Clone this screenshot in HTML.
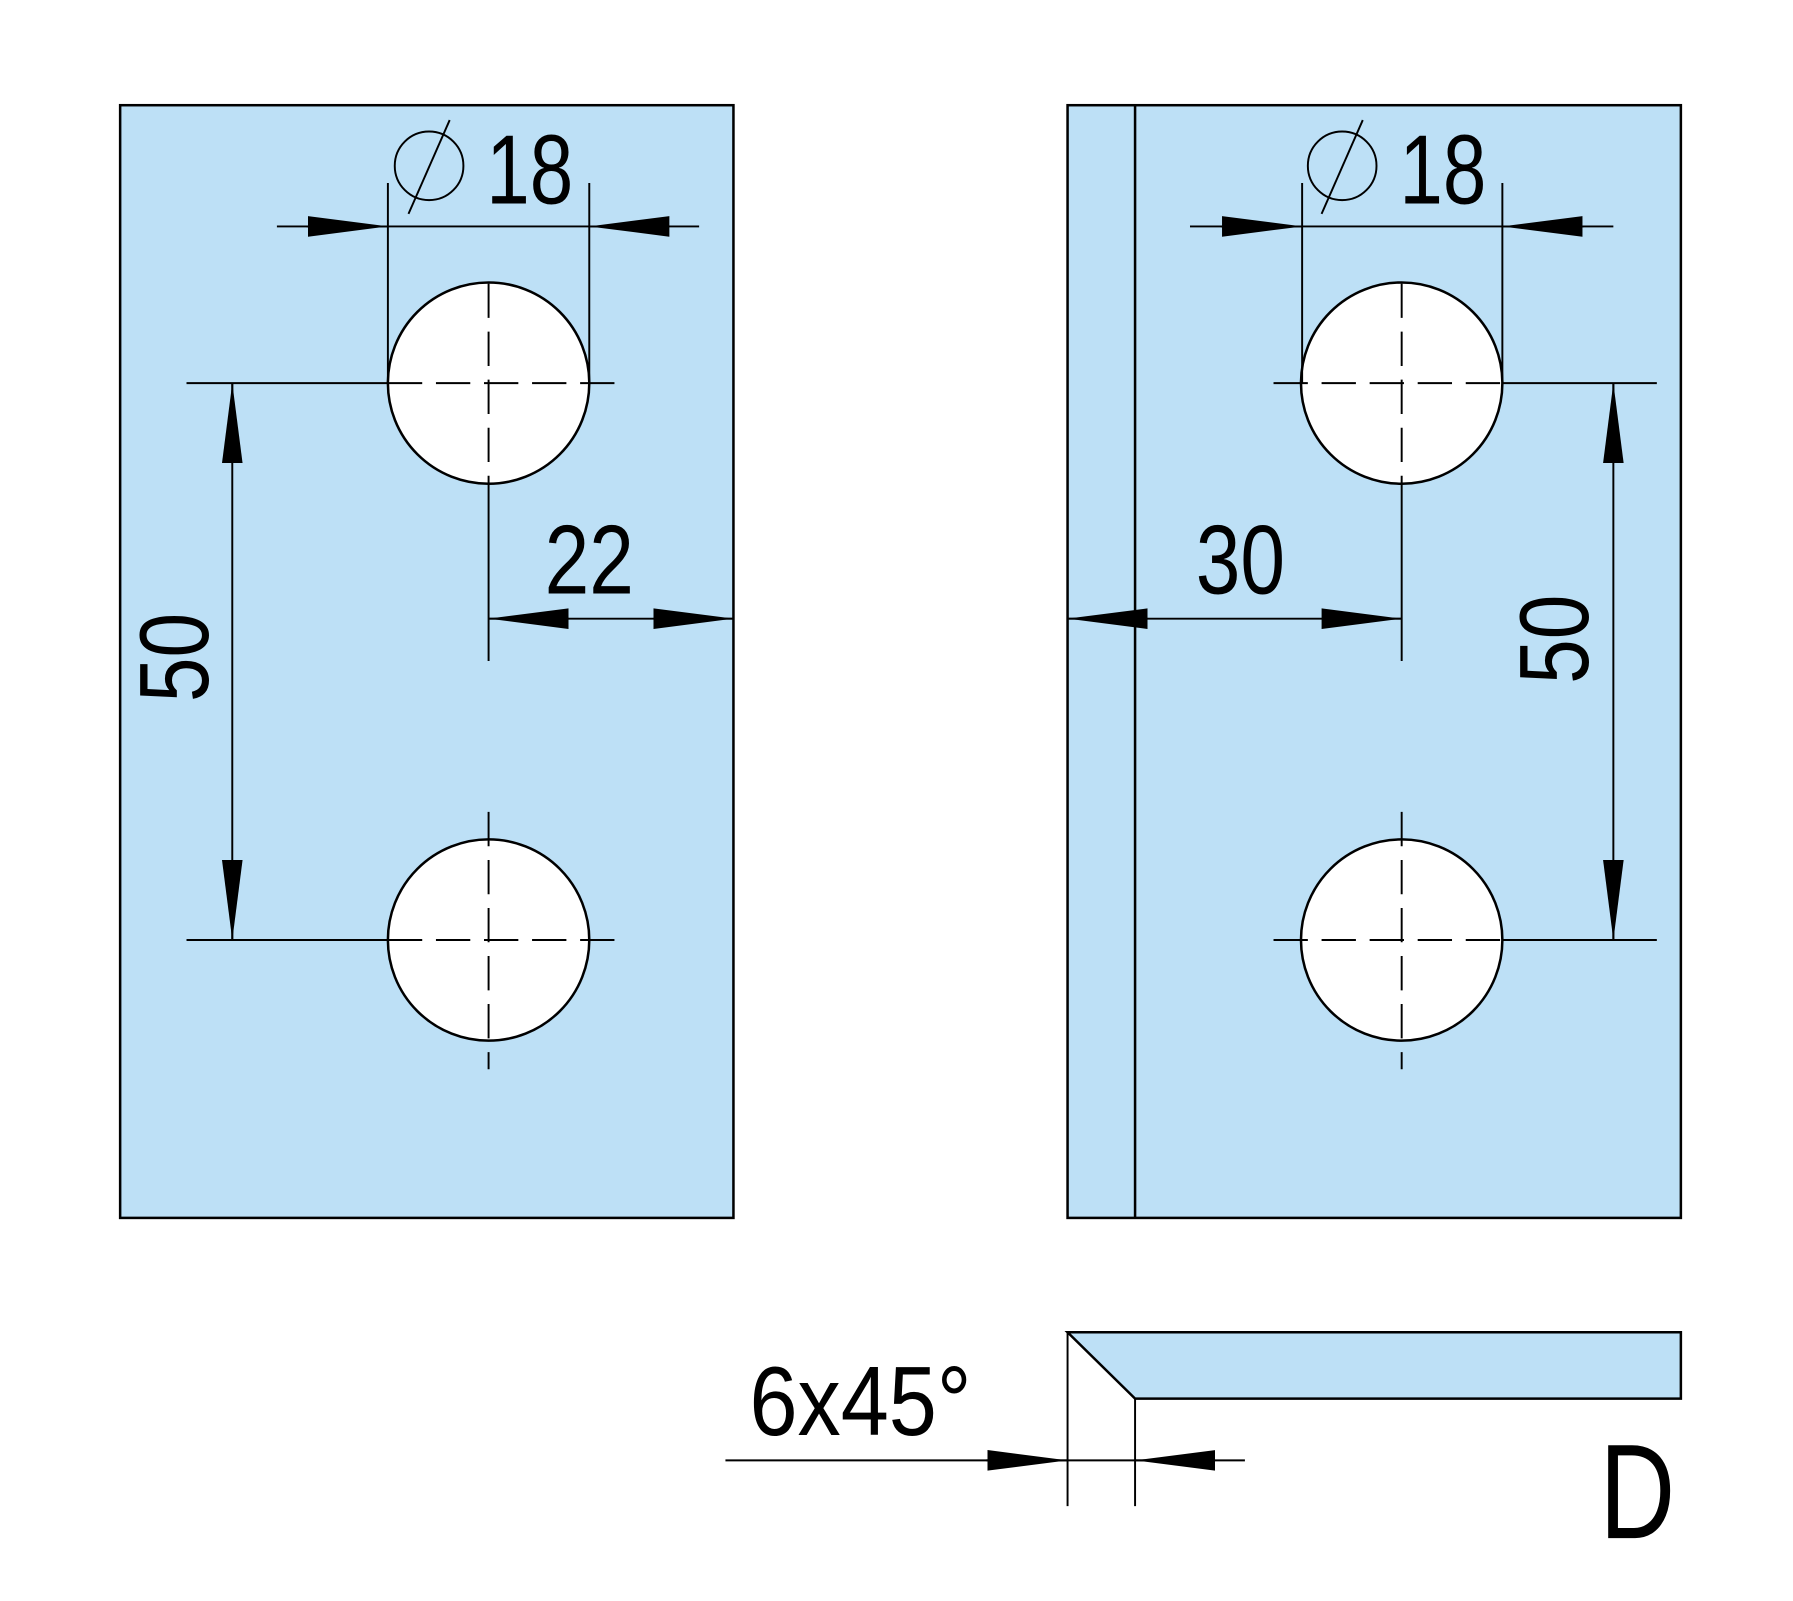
<!DOCTYPE html>
<html><head><style>html,body{margin:0;padding:0;background:#fff}svg{display:block}</style></head>
<body>
<svg width="1793" height="1601" viewBox="0 0 1567 1400" preserveAspectRatio="none" xmlns="http://www.w3.org/2000/svg" font-family="Liberation Sans, sans-serif">
<defs>
<marker id="a" viewBox="0 0 70 20" refX="70" refY="10" markerWidth="70" markerHeight="20" markerUnits="userSpaceOnUse" orient="auto"><path d="M0,1 L70,10 L0,19Z" fill="#000"/></marker>
</defs>
<g stroke="#000" stroke-width="2.2" fill="#bde0f6">
<rect x="105" y="92" width="536" height="973"/>
<rect x="933" y="92" width="536" height="973"/>
<polygon points="933,1165 1469,1165 1469,1223 992,1223"/>
</g>
<g stroke="#000" stroke-width="2.2" fill="#fff">
<circle cx="427" cy="335" r="88"/><circle cx="427" cy="822" r="88"/>
<circle cx="1225" cy="335" r="88"/><circle cx="1225" cy="822" r="88"/>
</g>
<g stroke="#000" stroke-width="1.7" fill="none">
<line x1="992" y1="92" x2="992" y2="1065" stroke-width="2.2"/>
<line x1="163" y1="335" x2="339" y2="335"/>
<line x1="339" y1="335" x2="540" y2="335" stroke-dasharray="30,12"/>
<line x1="427" y1="248" x2="427" y2="423" stroke-dasharray="30,12"/>
<line x1="427" y1="423" x2="427" y2="578"/>
<line x1="163" y1="822" x2="339" y2="822"/>
<line x1="339" y1="822" x2="540" y2="822" stroke-dasharray="30,12"/>
<line x1="427" y1="710" x2="427" y2="935" stroke-dasharray="30,12"/>
<line x1="339" y1="160" x2="339" y2="335"/><line x1="515" y1="160" x2="515" y2="335"/>
<line x1="242" y1="198" x2="611" y2="198"/>
<line x1="268" y1="198" x2="339" y2="198" marker-end="url(#a)"/>
<line x1="585" y1="198" x2="515" y2="198" marker-end="url(#a)"/>
<line x1="203" y1="335" x2="203" y2="822"/>
<line x1="203" y1="405" x2="203" y2="335" marker-end="url(#a)"/>
<line x1="203" y1="752" x2="203" y2="822" marker-end="url(#a)"/>
<line x1="427" y1="541" x2="641" y2="541"/>
<line x1="497" y1="541" x2="427" y2="541" marker-end="url(#a)"/>
<line x1="571" y1="541" x2="641" y2="541" marker-end="url(#a)"/>
<circle cx="375" cy="145" r="30"/><line x1="393" y1="105" x2="357" y2="187"/>
<line x1="1113" y1="335" x2="1313" y2="335" stroke-dasharray="30,12"/>
<line x1="1313" y1="335" x2="1448" y2="335"/>
<line x1="1225" y1="248" x2="1225" y2="423" stroke-dasharray="30,12"/>
<line x1="1225" y1="423" x2="1225" y2="578"/>
<line x1="1113" y1="822" x2="1313" y2="822" stroke-dasharray="30,12"/>
<line x1="1313" y1="822" x2="1448" y2="822"/>
<line x1="1225" y1="710" x2="1225" y2="935" stroke-dasharray="30,12"/>
<line x1="1138" y1="160" x2="1138" y2="335"/><line x1="1313" y1="160" x2="1313" y2="335"/>
<line x1="1040" y1="198" x2="1410" y2="198"/>
<line x1="1067" y1="198" x2="1138" y2="198" marker-end="url(#a)"/>
<line x1="1384" y1="198" x2="1313" y2="198" marker-end="url(#a)"/>
<line x1="1410" y1="335" x2="1410" y2="822"/>
<line x1="1410" y1="405" x2="1410" y2="335" marker-end="url(#a)"/>
<line x1="1410" y1="752" x2="1410" y2="822" marker-end="url(#a)"/>
<line x1="933" y1="541" x2="1225" y2="541"/>
<line x1="1003" y1="541" x2="933" y2="541" marker-end="url(#a)"/>
<line x1="1155" y1="541" x2="1225" y2="541" marker-end="url(#a)"/>
<circle cx="1173" cy="145" r="30"/><line x1="1191" y1="105" x2="1155" y2="187"/>
<line x1="933" y1="1165" x2="933" y2="1317"/>
<line x1="992" y1="1223" x2="992" y2="1317"/>
<line x1="634" y1="1277" x2="1088" y2="1277"/>
<line x1="862" y1="1277" x2="933" y2="1277" marker-end="url(#a)"/>
<line x1="1062" y1="1277" x2="992" y2="1277" marker-end="url(#a)"/>
</g>
<g font-size="86" fill="#000">
<text x="425" y="178" textLength="76" lengthAdjust="spacingAndGlyphs">18</text>
<text x="1223" y="178" textLength="76" lengthAdjust="spacingAndGlyphs">18</text>
<text x="476" y="519" textLength="78" lengthAdjust="spacingAndGlyphs">22</text>
<text x="1045" y="519" textLength="78" lengthAdjust="spacingAndGlyphs">30</text>
<text transform="translate(182,614) rotate(-90)" textLength="78" lengthAdjust="spacingAndGlyphs">50</text>
<text transform="translate(1388,598) rotate(-90)" textLength="78" lengthAdjust="spacingAndGlyphs">50</text>
<text x="655" y="1255" textLength="194" lengthAdjust="spacingAndGlyphs">6x45°</text>
<text x="1398" y="1345" font-size="118" textLength="66" lengthAdjust="spacingAndGlyphs">D</text>
</g>
</svg>
</body></html>
